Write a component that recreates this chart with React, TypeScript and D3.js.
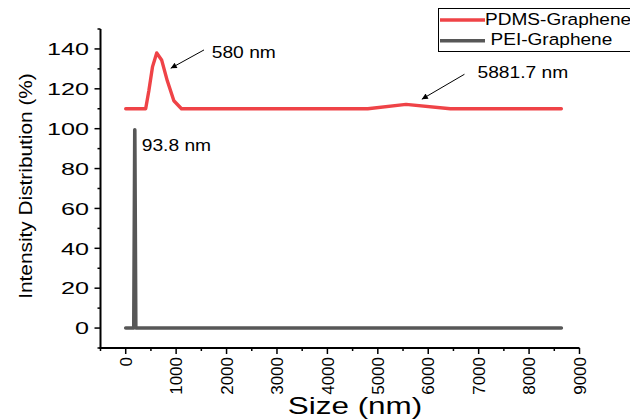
import React from "react";
import * as d3 from "d3";

const pdmsSize = [0, 396, 459, 531, 615, 712, 825, 955, 1106, 4801, 5560, 6439, 8640];
const pdmsIntensity = [110, 110, 119, 131, 138, 134.5, 124, 114, 110, 110, 112.2, 110, 110];
const peiSize = [0, 160, 180, 200, 8640];
const peiIntensity = [0, 0, 99.5, 0, 0];
const yMajorTicks = [0, 20, 40, 60, 80, 100, 120, 140];
const yMinorTicks = [-10, 10, 30, 50, 70, 90, 110, 130, 150];
const xMajorTicks = [0, 1000, 2000, 3000, 4000, 5000, 6000, 7000, 8000, 9000];
const xMinorTicks = [-500, 500, 1500, 2500, 3500, 4500, 5500, 6500, 7500, 8500];
const seriesNames = ["PDMS-Graphene", "PEI-Graphene"];
const annotations = [
  { label: "580 nm", tx: 1706, ty: 135.3, ax: 1553, ay: 139.5, hx: 893, hy: 130.3 },
  { label: "5881.7 nm", tx: 6976, ty: 125.3, ax: 6718, ay: 127.3, hx: 5873, hy: 114.8 },
];
const spikeLabel = { label: "93.8 nm", x: 317, y: 88.6 };

const FONT = "'Liberation Sans', Arial, sans-serif";
const RED = "#EF4347";
const GREY = "#575757";

export default function App() {
  const W = 630, H = 420;
  const x = d3.scaleLinear().domain([-500, 9000]).range([100.5, 579.5]);
  const y = d3.scaleLinear().domain([-10, 150]).range([348, 29]);
  const line = d3.line<[number, number]>().x(d => x(d[0])).y(d => y(d[1]));
  const pdms = pdmsSize.map((s, i) => [s, pdmsIntensity[i]] as [number, number]);
  const pei = peiSize.map((s, i) => [s, peiIntensity[i]] as [number, number]);
  const axX = x(-500), axY = y(-10);

  return (
    <svg width={W} height={H} style={{ position: "absolute", left: 0, top: 0, background: "#fff" }} fontFamily={FONT}>
      <defs>
        <marker id="ah" viewBox="0 0 10 10" refX="10" refY="5" markerWidth="9" markerHeight="6" orient="auto" markerUnits="userSpaceOnUse">
          <path d="M0,0 L10,5 L0,10 z" fill="#000" />
        </marker>
        <clipPath id="cl"><rect x={0} y={0} width={W} height={H} /></clipPath>
      </defs>

      {/* data lines */}
      <path d={line(pei) || ""} fill="none" stroke={GREY} strokeWidth={3.6} strokeLinejoin="round" strokeLinecap="round" />
      <path d={line(pdms) || ""} fill="none" stroke={RED} strokeWidth={3.4} strokeLinejoin="round" strokeLinecap="round" />

      {/* axes */}
      <line x1={axX} y1={y(150)} x2={axX} y2={axY + 1} stroke="#000" strokeWidth={2} />
      <line x1={axX - 1} y1={axY} x2={x(9000)} y2={axY} stroke="#000" strokeWidth={2} />
      {yMajorTicks.map(t => {
        const n = String(t).length;
        return (
          <g key={"ym" + t}>
            <line x1={axX - 6} x2={axX} y1={y(t)} y2={y(t)} stroke="#000" strokeWidth={1.5} />
            <text x={axX - 11.5 - n * 14} y={y(t) + 6.2} textLength={n * 14} lengthAdjust="spacingAndGlyphs" fontSize={17.2}>{t}</text>
          </g>
        );
      })}
      {yMinorTicks.map(t => (
        <line key={"yn" + t} x1={axX - 3} x2={axX} y1={y(t)} y2={y(t)} stroke="#000" strokeWidth={1.5} />
      ))}
      {xMajorTicks.map(t => (
        <g key={"xm" + t}>
          <line x1={x(t)} x2={x(t)} y1={axY} y2={axY + 6} stroke="#000" strokeWidth={1.5} />
          <text transform={`translate(${x(t) + 6.2},${axY + 9}) rotate(-90)`} textAnchor="end" fontSize={17}>{t}</text>
        </g>
      ))}
      {xMinorTicks.map(t => (
        <line key={"xn" + t} x1={x(t)} x2={x(t)} y1={axY} y2={axY + 3} stroke="#000" strokeWidth={1.5} />
      ))}

      {/* axis titles */}
      <text transform={`translate(355,413.5) scale(1.31,1)`} textAnchor="middle" fontSize={24}>Size  (nm)</text>
      <text transform={`translate(31.5,186) rotate(-90) scale(1.12,1)`} textAnchor="middle" fontSize={18.6}>Intensity Distribution  (%)</text>

      {/* annotations */}
      {annotations.map(a => (
        <g key={a.label}>
          <line x1={x(a.ax)} y1={y(a.ay)} x2={x(a.hx)} y2={y(a.hy)} stroke="#000" strokeWidth={1} markerEnd="url(#ah)" />
          <text transform={`translate(${x(a.tx)},${y(a.ty)}) scale(1.18,1)`} fontSize={16.3}>{a.label}</text>
        </g>
      ))}
      <text transform={`translate(${x(spikeLabel.x)},${y(spikeLabel.y)}) scale(1.18,1)`} fontSize={16.3}>{spikeLabel.label}</text>

      {/* legend */}
      <g clipPath="url(#cl)">
        <rect x={438.5} y={8.5} width={210} height={43} fill="#fff" stroke="#000" strokeWidth={1} />
        <line x1={440} x2={485} y1={20} y2={20} stroke={RED} strokeWidth={3.6} />
        <text transform="translate(485,25.3) scale(1.17,1)" fontSize={16.3}>{seriesNames[0]}</text>
        <line x1={440} x2={485} y1={40.7} y2={40.7} stroke={GREY} strokeWidth={3.6} />
        <text transform="translate(490.5,45.3) scale(1.17,1)" fontSize={16.3}>{seriesNames[1]}</text>
      </g>
    </svg>
  );
}
